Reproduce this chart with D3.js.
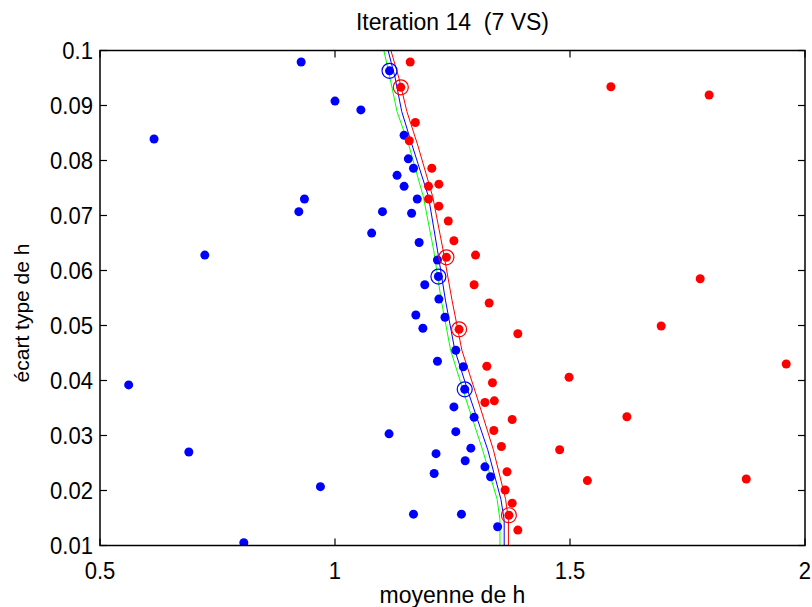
<!DOCTYPE html>
<html lang="fr">
<head>
<meta charset="UTF-8">
<title>Iteration 14 (7 VS)</title>
<script src="https://d3js.org/d3.v7.min.js"></script>
<style>
    body { margin: 0; background: #fff; }
    svg { display: block; }
    text { font-family: 'Liberation Sans', Arial, sans-serif; fill: #000; }
</style>
</head>
<body>
<div id="chart"></div>
<script>
    // data: [moyenne, ecart type]
    const bluePoints = [
        [0.928, 0.0979], [1.000, 0.0908], [1.055, 0.0892], [0.615, 0.0839],
        [0.935, 0.0730], [0.923, 0.0707], [0.723, 0.0628], [1.101, 0.0707],
        [1.078, 0.0668], [0.561, 0.0392], [0.689, 0.0270], [0.969, 0.0207],
        [0.806, 0.0105], [1.115, 0.0303], [1.167, 0.0157], [1.116, 0.0963],
        [1.147, 0.0846], [1.156, 0.0803], [1.167, 0.0786], [1.132, 0.0773],
        [1.147, 0.0753], [1.175, 0.0730], [1.163, 0.0704], [1.179, 0.0651],
        [1.218, 0.0619], [1.220, 0.0589], [1.191, 0.0574], [1.221, 0.0548],
        [1.172, 0.0519], [1.234, 0.0515], [1.187, 0.0495], [1.257, 0.0455],
        [1.218, 0.0435], [1.273, 0.0425], [1.276, 0.0384], [1.253, 0.0352],
        [1.296, 0.0333], [1.257, 0.0307], [1.289, 0.0277], [1.215, 0.0267],
        [1.277, 0.0254], [1.319, 0.0243], [1.211, 0.0231], [1.331, 0.0225],
        [1.269, 0.0157], [1.346, 0.0134]
    ];
    const redPoints = [
        [1.160, 0.0979], [1.587, 0.0934], [1.796, 0.0919], [1.140, 0.0933],
        [1.171, 0.0869], [1.158, 0.0836], [1.206, 0.0786], [1.199, 0.0753],
        [1.221, 0.0757], [1.199, 0.0730], [1.221, 0.0717], [1.241, 0.0690],
        [1.253, 0.0654], [1.299, 0.0628], [1.237, 0.0624], [1.296, 0.0574],
        [1.328, 0.0541], [1.264, 0.0493], [1.389, 0.0485], [1.777, 0.0585],
        [1.694, 0.0499], [1.960, 0.0430], [1.323, 0.0426], [1.498, 0.0406],
        [1.335, 0.0396], [1.319, 0.0360], [1.339, 0.0363], [1.377, 0.0329],
        [1.621, 0.0334], [1.338, 0.0309], [1.478, 0.0274], [1.354, 0.0280],
        [1.366, 0.0234], [1.537, 0.0218], [1.875, 0.0221], [1.362, 0.0201],
        [1.377, 0.0177], [1.370, 0.0155], [1.389, 0.0128]
    ];
    // support vectors (circled)
    const blueSV = [[1.116, 0.0963], [1.220, 0.0589], [1.276, 0.0384]];
    const redSV = [[1.140, 0.0933], [1.237, 0.0624], [1.264, 0.0493], [1.370, 0.0155]];

    // frontier lines
    const lineY = [0.1, 0.0950, 0.0889, 0.0828, 0.0734, 0.0637, 0.0546, 0.0455, 0.0370, 0.0274, 0.0184, 0.0146, 0.01];
    const blueLineX = [1.113, 1.128, 1.142, 1.164, 1.199, 1.218, 1.235, 1.255, 1.287, 1.325, 1.353, 1.360, 1.360];
    const greenLineX = [1.104, 1.117, 1.132, 1.157, 1.188, 1.210, 1.226, 1.246, 1.277, 1.314, 1.345, 1.351, 1.351];
    const redLineX = [1.119, 1.136, 1.153, 1.176, 1.208, 1.230, 1.249, 1.270, 1.302, 1.337, 1.363, 1.369, 1.369];

    const xTicks = [0.5, 1, 1.5, 2];
    const yTicks = [0.01, 0.02, 0.03, 0.04, 0.05, 0.06, 0.07, 0.08, 0.09, 0.1];

    const width = 812, height = 607;
    const margin = { top: 50.5, right: 7, bottom: 61.5, left: 100 };

    const svg = d3.select("#chart").append("svg")
        .attr("width", width)
        .attr("height", height);

    const x = d3.scaleLinear().domain([0.5, 2]).range([margin.left, width - margin.right]);
    const y = d3.scaleLinear().domain([0.01, 0.1]).range([height - margin.bottom, margin.top]);

    const g = svg.append("g");

    // clip to the axes box
    svg.append("clipPath").attr("id", "clip")
        .append("rect")
        .attr("x", x(0.5)).attr("y", y(0.1))
        .attr("width", x(2) - x(0.5)).attr("height", y(0.01) - y(0.1));

    const plot = g.append("g").attr("clip-path", "url(#clip)");

    // lines
    const line = d3.line()
        .x(d => x(d[0]))
        .y(d => y(d[1]));

    [[greenLineX, "#00ff00"], [blueLineX, "#0000ff"], [redLineX, "#ff0000"]].forEach(([xs, col]) => {
        plot.append("path")
            .datum(xs.map((v, i) => [v, lineY[i]]))
            .attr("d", line)
            .attr("fill", "none")
            .attr("stroke", col)
            .attr("stroke-width", 1);
    });

    // points
    plot.selectAll(".blue").data(bluePoints).enter().append("circle")
        .attr("class", "blue")
        .attr("cx", d => x(d[0])).attr("cy", d => y(d[1]))
        .attr("r", 4.5).attr("fill", "#0000ff");

    plot.selectAll(".red").data(redPoints).enter().append("circle")
        .attr("class", "red")
        .attr("cx", d => x(d[0])).attr("cy", d => y(d[1]))
        .attr("r", 4.5).attr("fill", "#ff0000");

    plot.selectAll(".bsv").data(blueSV).enter().append("circle")
        .attr("cx", d => x(d[0])).attr("cy", d => y(d[1]))
        .attr("r", 7.5).attr("fill", "none").attr("stroke", "#0000ff").attr("stroke-width", 1.2);

    plot.selectAll(".rsv").data(redSV).enter().append("circle")
        .attr("cx", d => x(d[0])).attr("cy", d => y(d[1]))
        .attr("r", 7.5).attr("fill", "none").attr("stroke", "#ff0000").attr("stroke-width", 1.2);

    // box and inner ticks (matlab style)
    const tickLen = 7;
    const axes = g.append("g").attr("stroke", "#000").attr("stroke-width", 1.2);

    xTicks.forEach(t => {
        axes.append("line").attr("x1", x(t)).attr("x2", x(t))
            .attr("y1", y(0.01)).attr("y2", y(0.01) - tickLen);
        axes.append("line").attr("x1", x(t)).attr("x2", x(t))
            .attr("y1", y(0.1)).attr("y2", y(0.1) + tickLen);
    });
    yTicks.forEach(t => {
        axes.append("line").attr("x1", x(0.5)).attr("x2", x(0.5) + tickLen)
            .attr("y1", y(t)).attr("y2", y(t));
        axes.append("line").attr("x1", x(2)).attr("x2", x(2) - tickLen)
            .attr("y1", y(t)).attr("y2", y(t));
    });

    axes.append("rect")
        .attr("x", x(0.5)).attr("y", y(0.1))
        .attr("width", x(2) - x(0.5)).attr("height", y(0.01) - y(0.1))
        .attr("fill", "none")
        .attr("stroke-width", 1.5);

    // tick labels (narrow, tall glyphs like the original)
    g.selectAll(".xlab").data(xTicks).enter().append("text")
        .attr("transform", d => `translate(${x(d)}, ${y(0.01) + 33}) scale(0.92, 1)`)
        .attr("text-anchor", "middle")
        .attr("font-size", 24)
        .text(d => d);

    g.selectAll(".ylab").data(yTicks).enter().append("text")
        .attr("transform", d => `translate(${x(0.5) - 7}, ${y(d) + 8.5}) scale(0.92, 1)`)
        .attr("text-anchor", "end")
        .attr("font-size", 24)
        .text(d => d);

    // titles
    g.append("text")
        .attr("x", (x(0.5) + x(2)) / 2).attr("y", 30)
        .attr("text-anchor", "middle")
        .attr("font-size", 23)
        .attr("xml:space", "preserve")
        .text("Iteration 14  (7 VS)");

    g.append("text")
        .attr("x", (x(0.5) + x(2)) / 2).attr("y", 603)
        .attr("text-anchor", "middle")
        .attr("font-size", 23)
        .text("moyenne de h");

    g.append("text")
        .attr("transform", `translate(29, 313) rotate(-90)`)
        .attr("text-anchor", "middle")
        .attr("font-size", 21)
        .text("écart type de h");
</script>
</body>
</html>
